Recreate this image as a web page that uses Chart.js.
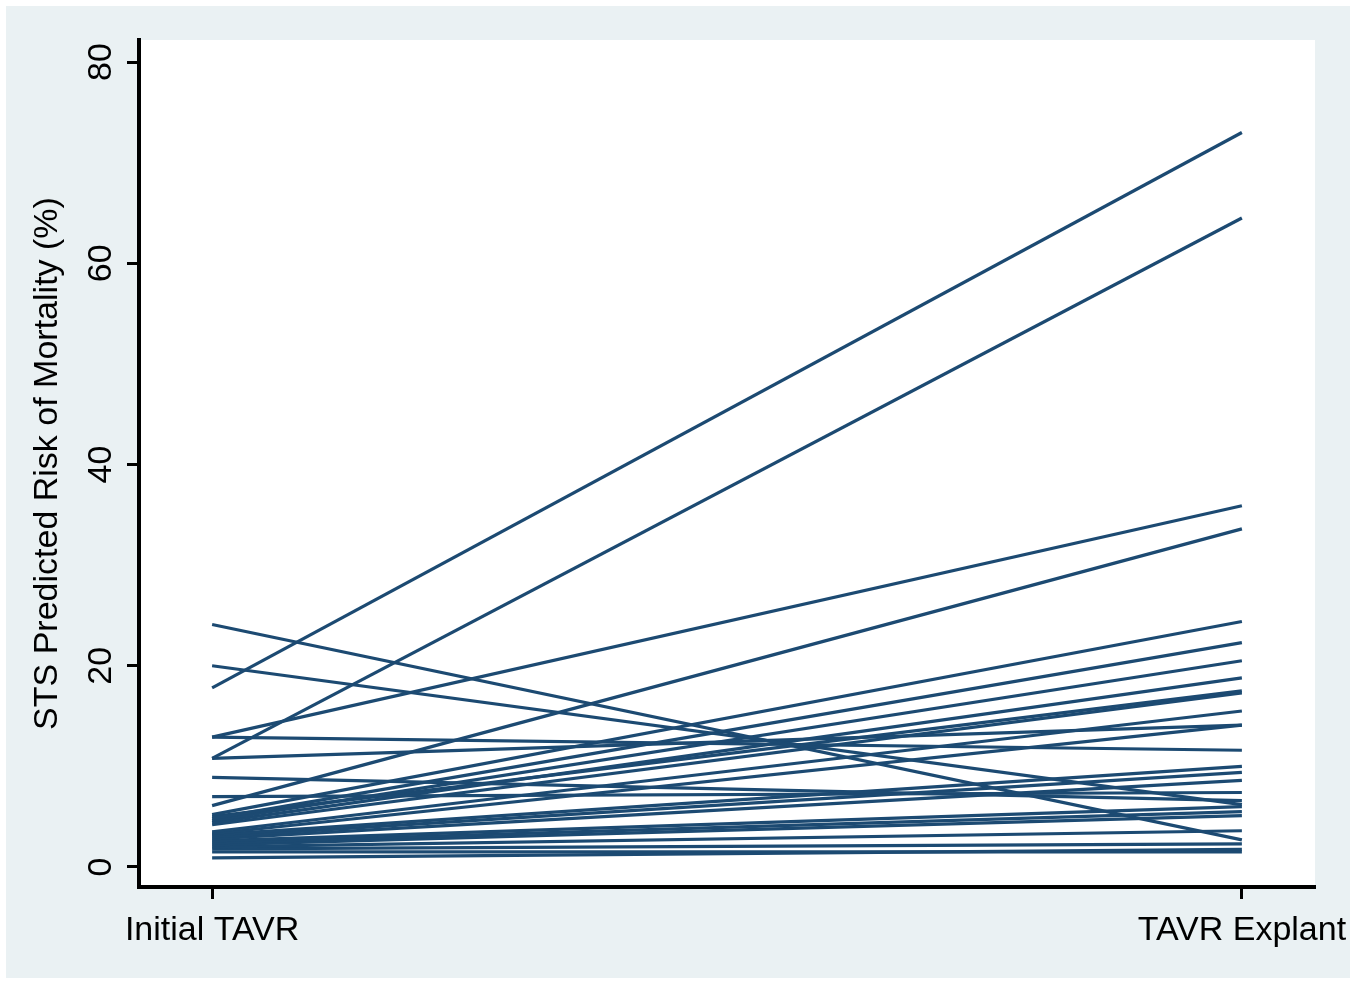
<!DOCTYPE html>
<html>
<head>
<meta charset="utf-8">
<script src="https://cdn.jsdelivr.net/npm/chart.js@4"></script>
<style>
  html, body { margin: 0; padding: 0; background: #fff; }
  #wrap { position: relative; width: 1366px; height: 982px; }
</style>
</head>
<body>
<div id="wrap"><canvas id="sts_Chart" width="1366" height="982"></canvas></div>
<script>
// STS predicted risk of mortality (%), one line per patient
const timepoints = ['Initial TAVR', 'TAVR Explant'];
const initialTavr = [17.8, 10.8, 12.9, 6.1, 24.1, 20.0, 12.9, 10.8, 8.9, 7.0,
                     5.2, 4.8, 4.6, 4.4, 5.0, 4.2, 3.5, 3.3, 3.2, 3.0,
                     2.8, 2.6, 2.4, 2.2, 2.0, 1.8, 1.5, 0.9];
const tavrExplant = [73.0, 64.5, 35.9, 33.6, 2.7, 6.2, 11.6, 14.1, 6.6, 7.4,
                     24.4, 22.3, 20.5, 18.8, 17.5, 17.3, 15.5, 14.1, 10.0, 9.4,
                     8.6, 6.0, 5.5, 5.1, 3.6, 2.3, 1.5, 1.75];
const yTicks = [0, 20, 40, 60, 80];

const lineColor = '#1C4A72';
const fontFam = '"Liberation Sans", Arial, sans-serif';

const datasets = initialTavr.map((v, i) => ({
  label: 'Patient ' + (i + 1),
  data: [{ x: 0, y: v }, { x: 1, y: tavrExplant[i] }],
  borderColor: lineColor,
  borderWidth: 3.2,
  pointRadius: 0,
  fill: false
}));

// light panel + white plot region, like the Stata scheme
const backdrop = {
  id: 'backdrop',
  beforeDraw(chart) {
    const c = chart.ctx, a = chart.chartArea;
    c.save();
    c.fillStyle = '#fff';
    c.fillRect(0, 0, chart.width, chart.height);
    c.fillStyle = '#EAF1F3';
    c.fillRect(6, 6, 1344, 972);
    c.fillStyle = '#fff';
    c.fillRect(a.left, a.top, a.right - a.left, a.bottom - a.top);
    c.restore();
  }
};

const ctx = document.getElementById('sts_Chart').getContext('2d');
const myChart = new Chart(ctx, {
  type: 'line',
  data: { datasets: datasets },
  options: {
    responsive: false,
    animation: false,
    layout: { padding: { top: 40, right: 51, left: 0, bottom: 0 } },
    plugins: { legend: { display: false }, tooltip: { enabled: false } },
    scales: {
      x: {
        type: 'linear',
        min: -0.071,
        max: 1.071,
        afterFit: s => { s.height = 95; },
        afterBuildTicks: s => { s.ticks = [{ value: 0 }, { value: 1 }]; },
        border: { display: true, color: '#000', width: 4 },
        grid: { drawOnChartArea: false, drawTicks: true, tickLength: 12, tickWidth: 3, tickColor: '#000' },
        ticks: {
          autoSkip: false, maxRotation: 0, minRotation: 0, padding: 11,
          color: '#000', font: { family: fontFam, size: 34 },
          callback: v => timepoints[v]
        }
      },
      y: {
        min: -1.99,
        max: 82.19,
        afterFit: s => { s.width = 139; },
        afterBuildTicks: s => { s.ticks = yTicks.map(v => ({ value: v })); },
        border: { display: true, color: '#000', width: 4 },
        grid: { drawOnChartArea: false, drawTicks: true, tickLength: 12, tickWidth: 3, tickColor: '#000' },
        ticks: {
          minRotation: 90, maxRotation: 90, crossAlign: 'center', padding: 6,
          color: '#000', font: { family: fontFam, size: 34 }
        },
        title: {
          display: true,
          text: 'STS Predicted Risk of Mortality (%)',
          color: '#000',
          font: { family: fontFam, size: 34 },
          padding: { top: 27, bottom: 0 }
        }
      }
    }
  },
  plugins: [backdrop]
});
</script>
</body>
</html>
